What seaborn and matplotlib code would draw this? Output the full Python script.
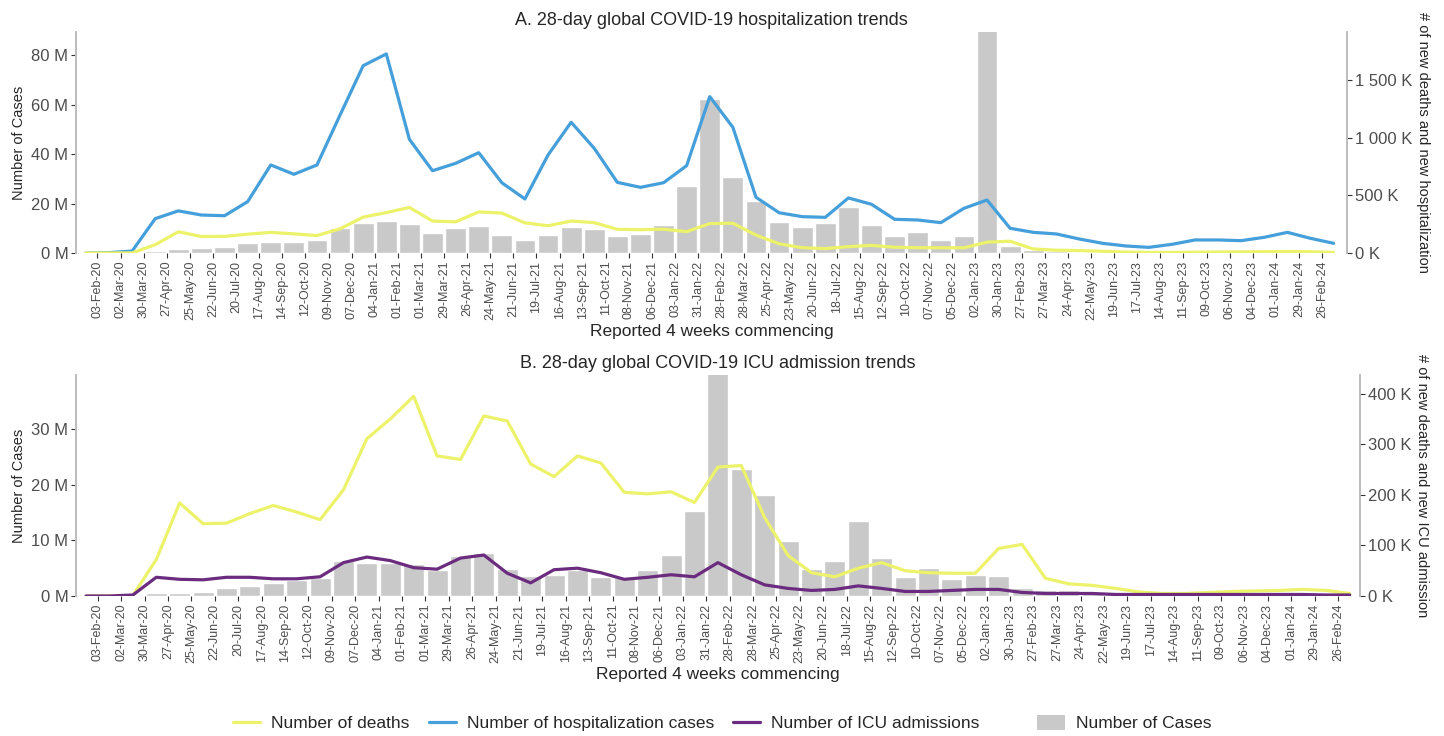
"""COVID-19 28-day hospitalization / ICU trends — seaborn + matplotlib twin axes."""

import matplotlib
matplotlib.use("Agg")
import matplotlib.pyplot as plt
import matplotlib.transforms as mtransforms
from matplotlib.lines import Line2D
from matplotlib.patches import Patch
from matplotlib.ticker import FuncFormatter
import numpy as np
import seaborn as sns

# tick labels: start of each 4-week period
period_labels = [
    "03-Feb-20", "02-Mar-20", "30-Mar-20", "27-Apr-20", "25-May-20", "22-Jun-20",
    "20-Jul-20", "17-Aug-20", "14-Sep-20", "12-Oct-20", "09-Nov-20", "07-Dec-20",
    "04-Jan-21", "01-Feb-21", "01-Mar-21", "29-Mar-21", "26-Apr-21", "24-May-21",
    "21-Jun-21", "19-Jul-21", "16-Aug-21", "13-Sep-21", "11-Oct-21", "08-Nov-21",
    "06-Dec-21", "03-Jan-22", "31-Jan-22", "28-Feb-22", "28-Mar-22", "25-Apr-22",
    "23-May-22", "20-Jun-22", "18-Jul-22", "15-Aug-22", "12-Sep-22", "10-Oct-22",
    "07-Nov-22", "05-Dec-22", "02-Jan-23", "30-Jan-23", "27-Feb-23", "27-Mar-23",
    "24-Apr-23", "22-May-23", "19-Jun-23", "17-Jul-23", "14-Aug-23", "11-Sep-23",
    "09-Oct-23", "06-Nov-23", "04-Dec-23", "01-Jan-24", "29-Jan-24", "26-Feb-24",
]

# 55 periods (one before the first labelled tick)
# panel A: cases (millions), hospitalizations (thousands)
cases_hosp_m = [
    0.05, 0.05, 0.1, 0.9, 1.8, 1.9, 2.6, 3.9, 4.3, 4.3, 5.4, 10.3, 12.1, 13.0,
    11.7, 7.9, 10.3, 10.9, 7.2, 5.3, 7.2, 10.7, 9.7, 7.0, 7.6, 11.3, 27.3, 62.2,
    30.6, 21.2, 12.4, 10.7, 12.2, 18.8, 11.3, 6.9, 8.6, 5.3, 6.9, 92.0, 2.8, 1.2,
    0.8, 0.5, 0.4, 0.3, 0.3, 0.3, 0.3, 0.3, 0.3, 0.4, 0.3, 0.3, 0.2,
]
hospitalizations_k = [
    0, 3, 17, 298, 365, 329, 323, 445, 763, 682, 763, 1196, 1623, 1725,
    985, 713, 777, 869, 609, 468, 849, 1133, 907, 612, 569, 609, 757, 1355,
    1089, 483, 349, 315, 309, 477, 422, 292, 286, 263, 387, 459, 214, 179,
    165, 121, 84, 61, 49, 75, 113, 113, 107, 136, 179, 127, 84,
]
# shared by both panels
deaths_k = [
    0, 0, 1, 72, 184, 143, 144, 163, 179, 166, 151, 210, 311, 350,
    395, 277, 270, 356, 346, 261, 236, 277, 263, 205, 202, 206, 185, 255,
    258, 155, 80, 46, 38, 55, 66, 50, 46, 45, 45, 94, 102, 35,
    24, 21, 15, 8, 5, 5, 7, 9, 10, 11, 13, 11, 5,
]
# panel B: cases (millions), ICU admissions (thousands)
cases_icu_m = [
    0.2, 0.1, 0.1, 0.5, 0.5, 0.8, 1.4, 1.8, 2.3, 2.8, 3.3, 6.2, 5.9, 5.9,
    5.7, 4.7, 7.2, 7.7, 4.8, 3.6, 3.7, 4.7, 3.4, 3.5, 4.6, 7.4, 15.3, 42.0,
    22.8, 18.1, 9.9, 4.8, 6.3, 13.5, 6.9, 3.5, 5.1, 3.0, 3.8, 3.6, 1.4, 1.1,
    1.1, 0.8, 0.6, 0.4, 0.3, 0.3, 0.3, 0.3, 0.3, 0.3, 0.3, 0.3, 0.2,
]
icu_k = [
    0, 0, 2, 37, 33, 32, 37, 37, 34, 34, 38, 66, 77, 70,
    56, 53, 75, 81, 45, 26, 52, 55, 46, 33, 37, 42, 38, 66,
    42, 22, 15, 11, 13, 20, 15, 9, 9, 11, 13, 13, 7, 5,
    5, 5, 3, 3, 3, 3, 3, 3, 3, 3, 3, 2, 2,
]

YELLOW = "#ECF26A"
BLUE = "#459FDA"
PURPLE = "#6B2C7F"
GREY = "#C9C9C9"
TXT = "#4D4D4D"

sns.set_theme(style="white")
plt.rcParams["font.family"] = ["Liberation Sans", "DejaVu Sans"]


def fmt_m(v, _):
    return f"{v / 1e6:.0f} M"


def fmt_k(v, _):
    return f"{int(round(v / 1e3)):,} K".replace(",", " ")


def draw_panel(fig, rect, title, cases_m, lines, ylim_l, ylim_r, yticks_l, yticks_r,
               right_label, xlim):
    ax = fig.add_axes(rect)
    x = np.arange(len(cases_m))
    sns.barplot(x=x, y=np.array(cases_m) * 1e6, native_scale=True, color=GREY,
                saturation=1, width=0.9, errorbar=None, ax=ax)
    ax2 = ax.twinx()
    for values, color in lines:
        sns.lineplot(x=x, y=np.array(values) * 1e3, color=color, linewidth=2.3, ax=ax2)

    ax.set_xlim(*xlim)
    ax.set_ylim(*ylim_l)
    ax2.set_ylim(*ylim_r)
    ax.set_yticks(yticks_l)
    ax2.set_yticks(yticks_r)
    ax.yaxis.set_major_formatter(FuncFormatter(fmt_m))
    ax2.yaxis.set_major_formatter(FuncFormatter(fmt_k))

    ax.set_xticks(np.arange(len(period_labels)) + 0.5)
    ax.set_xticklabels(period_labels, rotation=90, fontsize=9, color=TXT)
    shift = mtransforms.ScaledTranslation(5 / 72, 0, fig.dpi_scale_trans)
    for lab in ax.get_xticklabels():
        lab.set_transform(lab.get_transform() + shift)

    for a in (ax, ax2):
        for s in ("top", "bottom"):
            a.spines[s].set_visible(False)
        a.spines["left"].set_color("#BDBDBD")
        a.spines["right"].set_color("#BDBDBD")
        a.tick_params(axis="y", labelsize=12, labelcolor=TXT, length=3.5, width=0.8,
                      color="#333333", pad=2)
    ax.tick_params(axis="x", length=3.5, width=0.8, color="#333333", pad=2,
                   bottom=True)

    ax.set_title(title, fontsize=13, pad=5)
    ax.set_xlabel("Reported 4 weeks commencing", fontsize=12.5, labelpad=3)
    ax.set_ylabel("Number of Cases", fontsize=10.5, labelpad=4)
    ax2.set_ylabel(right_label, fontsize=10.5, rotation=270, labelpad=13)
    return ax, ax2


fig = plt.figure(figsize=(14.44, 7.36), dpi=100)
W, H = 1444, 736


def rect_px(left, top, right, bottom):
    return [left / W, 1 - bottom / H, (right - left) / W, (bottom - top) / H]


draw_panel(fig, rect_px(76, 32, 1347, 253),
           "A. 28-day global COVID-19 hospitalization trends",
           cases_hosp_m, [(hospitalizations_k, BLUE), (deaths_k, YELLOW)],
           (0, 89.5e6), (0, 1915e3),
           [0, 20e6, 40e6, 60e6, 80e6], [0, 500e3, 1000e3, 1500e3],
           "# of new deaths and new hospitalization", (-0.43, 54.58))

draw_panel(fig, rect_px(76, 375, 1360, 596),
           "B. 28-day global COVID-19 ICU admission trends",
           cases_icu_m, [(deaths_k, YELLOW), (icu_k, PURPLE)],
           (0, 39.7e6), (0, 437e3),
           [0, 10e6, 20e6, 30e6], [0, 100e3, 200e3, 300e3, 400e3],
           "# of new deaths and new ICU admission", (-0.43, 54.44))

line_handles = [
    Line2D([], [], color=YELLOW, linewidth=2.3),
    Line2D([], [], color=BLUE, linewidth=2.3),
    Line2D([], [], color=PURPLE, linewidth=2.3),
]
line_labels = ["Number of deaths", "Number of hospitalization cases",
               "Number of ICU admissions"]
leg_y = 1 - 723 / H
fig.legend(line_handles, line_labels, loc="center left",
           bbox_to_anchor=(233 / W, leg_y), ncol=3, frameon=False, fontsize=12.5,
           handlelength=1.55, columnspacing=1.1, handletextpad=0.65, borderpad=0,
           borderaxespad=0)
fig.legend([Patch(facecolor=GREY, edgecolor="none")], ["Number of Cases"],
           loc="center left", bbox_to_anchor=(1037 / W, leg_y), frameon=False,
           fontsize=12.5, handlelength=1.6, handleheight=1.0, handletextpad=0.65,
           borderpad=0, borderaxespad=0)

fig.savefig("out.png", dpi=100)
plt.close(fig)
